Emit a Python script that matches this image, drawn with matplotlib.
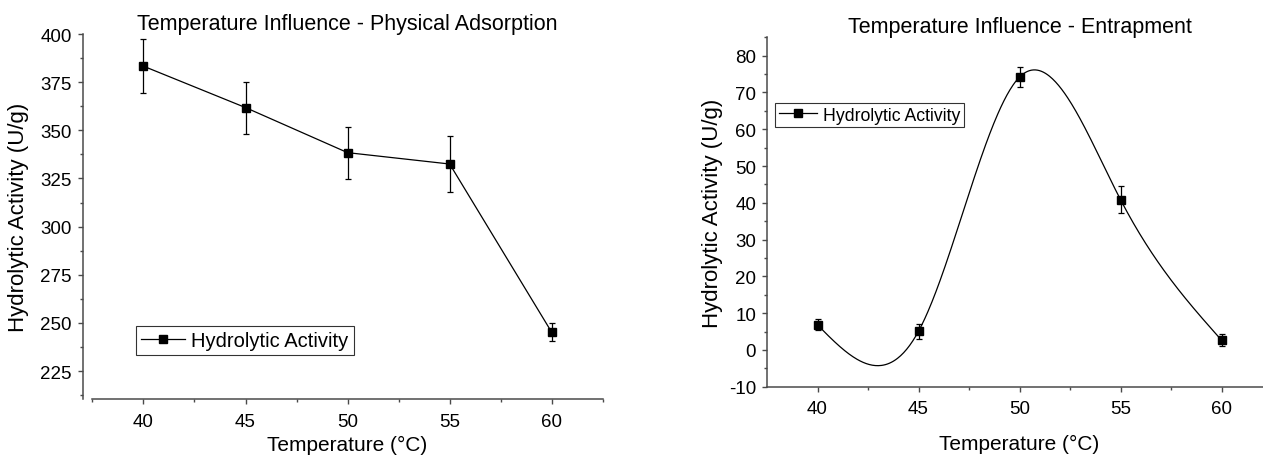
import numpy as np
import matplotlib
matplotlib.use("Agg")
import matplotlib.pyplot as plt

plt.rcParams['font.family'] = ['Liberation Sans', 'DejaVu Sans']

# ---- data ----
temps = [40, 45, 50, 55, 60]
phys_activity = [383.3, 361.8, 338.4, 332.5, 245.1]
phys_err = [14.0, 13.5, 13.5, 14.7, 4.6]
entr_activity = [6.8, 5.1, 74.2, 40.8, 2.6]
entr_err = [1.5, 2.0, 2.6, 3.7, 1.6]
x_ticks = [40, 45, 50, 55, 60]
phys_yticks = [225, 250, 275, 300, 325, 350, 375, 400]
entr_yticks = [-10, 0, 10, 20, 30, 40, 50, 60, 70, 80]

title_left = "Temperature Influence - Physical Adsorption"
title_right = "Temperature Influence - Entrapment"
xlabel = "Temperature (\u00b0C)"
ylabel = "Hydrolytic Activity (U/g)"
legend_label = "Hydrolytic Activity"


def natural_cubic(x, y, xs):
    x = np.asarray(x, float)
    y = np.asarray(y, float)
    n = len(x)
    h = np.diff(x)
    A = np.zeros((n, n))
    b = np.zeros(n)
    A[0, 0] = 1
    A[-1, -1] = 1
    for i in range(1, n - 1):
        A[i, i - 1] = h[i - 1]
        A[i, i] = 2 * (h[i - 1] + h[i])
        A[i, i + 1] = h[i]
        b[i] = 3 * ((y[i + 1] - y[i]) / h[i] - (y[i] - y[i - 1]) / h[i - 1])
    c = np.linalg.solve(A, b)
    out = np.empty_like(xs)
    for k, xv in enumerate(xs):
        i = min(max(np.searchsorted(x, xv) - 1, 0), n - 2)
        dx = xv - x[i]
        bi = (y[i + 1] - y[i]) / h[i] - h[i] * (2 * c[i] + c[i + 1]) / 3
        di = (c[i + 1] - c[i]) / (3 * h[i])
        out[k] = y[i] + bi * dx + c[i] * dx ** 2 + di * dx ** 3
    return out


fig = plt.figure(figsize=(12.63, 4.56), dpi=100)
W, H = 1263, 456

spine_col = '#4a4a4a'


def style_axes(ax):
    for s in ['top', 'right']:
        ax.spines[s].set_visible(False)
    for s in ['left', 'bottom']:
        ax.spines[s].set_color(spine_col)
        ax.spines[s].set_linewidth(1.1)
    ax.tick_params(which='major', direction='out', length=3.8, width=1.0,
                   color=spine_col, labelsize=13.5)
    ax.tick_params(which='minor', direction='out', length=2.2, width=1.0,
                   color=spine_col)
    ax.tick_params(axis='x', which='major', pad=6)
    ax.tick_params(axis='y', which='major', pad=4)


# ---- left panel ----
ax1 = fig.add_axes([92.4 / W, 1 - 400 / H, 510.4 / W, 365 / H])
style_axes(ax1)
ax1.spines['left'].set_position(('outward', 7))
ax1.errorbar(temps, phys_activity, yerr=phys_err, color='black', lw=0.9,
             marker='s', ms=6, capsize=2.2, elinewidth=0.9, capthick=0.9)
ax1.plot([], [], color='black', lw=0.9, marker='s', ms=6, label=legend_label)
ax1.set_xlim(37.5, 62.5)
ax1.set_ylim(210.5, 400)
ax1.set_xticks(x_ticks)
ax1.set_xticks([42.5, 47.5, 52.5, 57.5, 62.5, 37.5], minor=True)
ax1.set_yticks(phys_yticks)
ax1.set_yticks([212.5, 237.5, 262.5, 287.5, 312.5, 337.5, 362.5, 387.5], minor=True)
ax1.set_title(title_left, fontsize=15.5, pad=-0.5)
ax1.set_xlabel(xlabel, fontsize=15, labelpad=3.8)
ax1.set_ylabel(ylabel, fontsize=16)
ax1.yaxis.set_label_coords(-0.125, 0.5)
leg1 = ax1.legend(loc='upper left', bbox_to_anchor=(0.0854, 0.2),
                  borderaxespad=0, fontsize=14.5, frameon=True, fancybox=False,
                  handlelength=2.2, handletextpad=0.3, borderpad=0.25,
                  edgecolor='black')
leg1.get_frame().set_linewidth(0.8)

# ---- right panel ----
ax2 = fig.add_axes([767 / W, 1 - 387.7 / H, 505.2 / W, 349.4 / H])
style_axes(ax2)
xs = np.linspace(temps[0], temps[-1], 400)
ys = natural_cubic(temps, entr_activity, xs)
ax2.plot(xs, ys, color='black', lw=0.9)
ax2.errorbar(temps, entr_activity, yerr=entr_err, color='black', lw=0, ls='none',
             marker='s', ms=6, capsize=2.2, elinewidth=0.9, capthick=0.9)
ax2.plot([], [], color='black', lw=0.9, marker='s', ms=6, label=legend_label)
ax2.set_xlim(37.5, 62.5)
ax2.set_ylim(-10, 85)
ax2.set_xticks(x_ticks)
ax2.set_xticks([42.5, 47.5, 52.5, 57.5], minor=True)
ax2.set_yticks(entr_yticks)
ax2.set_yticks([-5, 5, 15, 25, 35, 45, 55, 65, 75, 85], minor=True)
ax2.set_yticklabels([str(v) for v in entr_yticks])
ax2.set_title(title_right, fontsize=15.5, pad=2)
ax2.set_xlabel(xlabel, fontsize=15, labelpad=12)
ax2.set_ylabel(ylabel, fontsize=16)
ax2.yaxis.set_label_coords(-0.088, 0.5)
leg2 = ax2.legend(loc='upper left', bbox_to_anchor=(0.016, 0.812),
                  borderaxespad=0, fontsize=12.7, frameon=True, fancybox=False,
                  handlelength=2.2, handletextpad=0.3, borderpad=0.2,
                  edgecolor='black')
leg2.get_frame().set_linewidth(0.8)

fig.savefig('out.png', dpi=100)
